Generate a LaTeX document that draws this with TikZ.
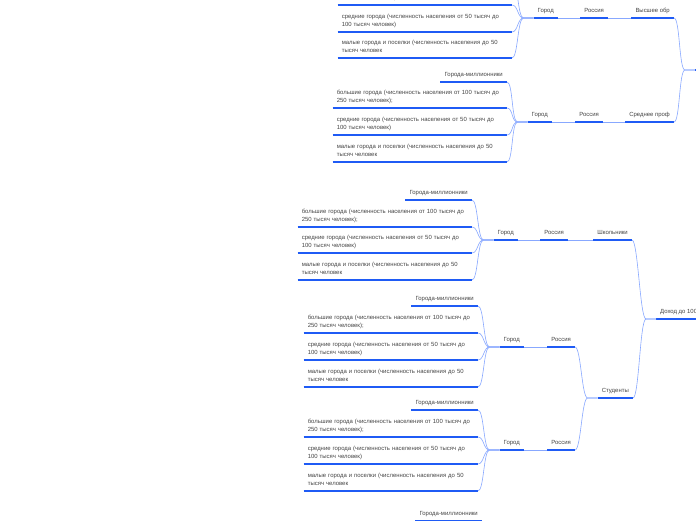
\documentclass[tikz,border=0pt]{standalone}
\usepackage{fontspec}
\setmainfont{Liberation Sans}
\definecolor{txtgray}{HTML}{444444}
\definecolor{lineblue}{HTML}{1F5BF5}
\definecolor{linkblue}{HTML}{88A8FF}
\tikzset{
  topic/.style={font=\fontsize{5.95}{8}\selectfont, text=txtgray, inner xsep=4pt, inner ysep=3.5pt,
    text height=4.3pt, text depth=1.5pt, anchor=south east},
  long/.style={topic, text width=166pt, align=left, text depth=9.5pt},
  uline/.style={draw=lineblue, line width=1.3pt},
  link/.style={draw=linkblue, line width=0.6pt},
}
\begin{document}
\begin{tikzpicture}[x=1pt,y=-1pt]
\useasboundingbox (0,0) rectangle (696,520);
\fill[white] (0,0) rectangle (696,520);
\clip (0,0) rectangle (696,520);

% roots
\node[topic, anchor=south west, minimum width=30pt] (rootA) at (695,70) {};
\node[topic, anchor=south west] (dohod) at (656,319) {Доход до 100};

% upper branch
\node[topic] (vyssh) at (674,18) {Высшее обр};
\node[topic] (rossA) at (608,18) {Россия};
\node[topic] (gorodA) at (558,18) {Город};
\node[topic] (millA) at (512,-21) {Города-миллионники};
\node[long] (bolA) at (512,5) {большие города (численность населения от 100 тысяч до\\250 тысяч человек);};
\node[long] (srA) at (512,32) {средние города (численность населения от 50 тысяч до\\100 тысяч человек)};
\node[long] (malA) at (512,58) {малые города и поселки (численность населения до 50\\тысяч человек};

\node[topic] (sredn) at (674,122) {Среднее проф};
\node[topic] (rossB) at (603,122) {Россия};
\node[topic] (gorodB) at (552,122) {Город};
\node[topic] (millB) at (507,82) {Города-миллионники};
\node[long] (bolB) at (507,108) {большие города (численность населения от 100 тысяч до\\250 тысяч человек);};
\node[long] (srB) at (507,135) {средние города (численность населения от 50 тысяч до\\100 тысяч человек)};
\node[long] (malB) at (507,162) {малые города и поселки (численность населения до 50\\тысяч человек};

% lower branch
\node[topic] (shkol) at (632,240) {Школьники};
\node[topic] (rossC) at (568,240) {Россия};
\node[topic] (gorodC) at (518,240) {Город};
\node[topic] (millC) at (472,200) {Города-миллионники};
\node[long] (bolC) at (472,227) {большие города (численность населения от 100 тысяч до\\250 тысяч человек);};
\node[long] (srC) at (472,253) {средние города (численность населения от 50 тысяч до\\100 тысяч человек)};
\node[long] (malC) at (472,280) {малые города и поселки (численность населения до 50\\тысяч человек};

\node[topic] (stud) at (633,398) {Студенты};
\node[topic] (rossD) at (575,347) {Россия};
\node[topic] (gorodD) at (524,347) {Город};
\node[topic] (millD) at (478,306) {Города-миллионники};
\node[long] (bolD) at (478,333) {большие города (численность населения от 100 тысяч до\\250 тысяч человек);};
\node[long] (srD) at (478,360) {средние города (численность населения от 50 тысяч до\\100 тысяч человек)};
\node[long] (malD) at (478,387) {малые города и поселки (численность населения до 50\\тысяч человек};

\node[topic] (rossE) at (575,450) {Россия};
\node[topic] (gorodE) at (524,450) {Город};
\node[topic] (millE) at (478,410) {Города-миллионники};
\node[long] (bolE) at (478,437) {большие города (численность населения от 100 тысяч до\\250 тысяч человек);};
\node[long] (srE) at (478,464) {средние города (численность населения от 50 тысяч до\\100 тысяч человек)};
\node[long] (malE) at (478,491) {малые города и поселки (численность населения до 50\\тысяч человек};

\node[topic] (millF) at (482,521) {Города-миллионники};

% underlines
\foreach \n in {rootA,dohod,vyssh,rossA,gorodA,millA,bolA,srA,malA,sredn,rossB,gorodB,millB,bolB,srB,malB,
  shkol,rossC,gorodC,millC,bolC,srC,malC,stud,rossD,gorodD,millD,bolD,srD,malD,rossE,gorodE,millE,bolE,srE,malE,millF}
  \draw[uline] (\n.south west) -- (\n.south east);

% straight links
\draw[link] (rossA.south west) -- (gorodA.south east);
\draw[link] (vyssh.south west) -- (rossA.south east);
\draw[link] (rossB.south west) -- (gorodB.south east);
\draw[link] (sredn.south west) -- (rossB.south east);
\draw[link] (rossC.south west) -- (gorodC.south east);
\draw[link] (shkol.south west) -- (rossC.south east);
\draw[link] (rossD.south west) -- (gorodD.south east);
\draw[link] (rossE.south west) -- (gorodE.south east);

% curved links
\foreach \p/\c in {rootA/vyssh,rootA/sredn,dohod/shkol,dohod/stud,stud/rossD,stud/rossE,
  gorodA/millA,gorodA/bolA,gorodA/srA,gorodA/malA,gorodB/millB,gorodB/bolB,gorodB/srB,gorodB/malB,
  gorodC/millC,gorodC/bolC,gorodC/srC,gorodC/malC,gorodD/millD,gorodD/bolD,gorodD/srD,gorodD/malD,
  gorodE/millE,gorodE/bolE,gorodE/srE,gorodE/malE}
  \draw[link] (\p.south west) -- ++(-10,0) to[out=180,in=0,distance=6pt] (\c.south east);

\end{tikzpicture}
\end{document}
